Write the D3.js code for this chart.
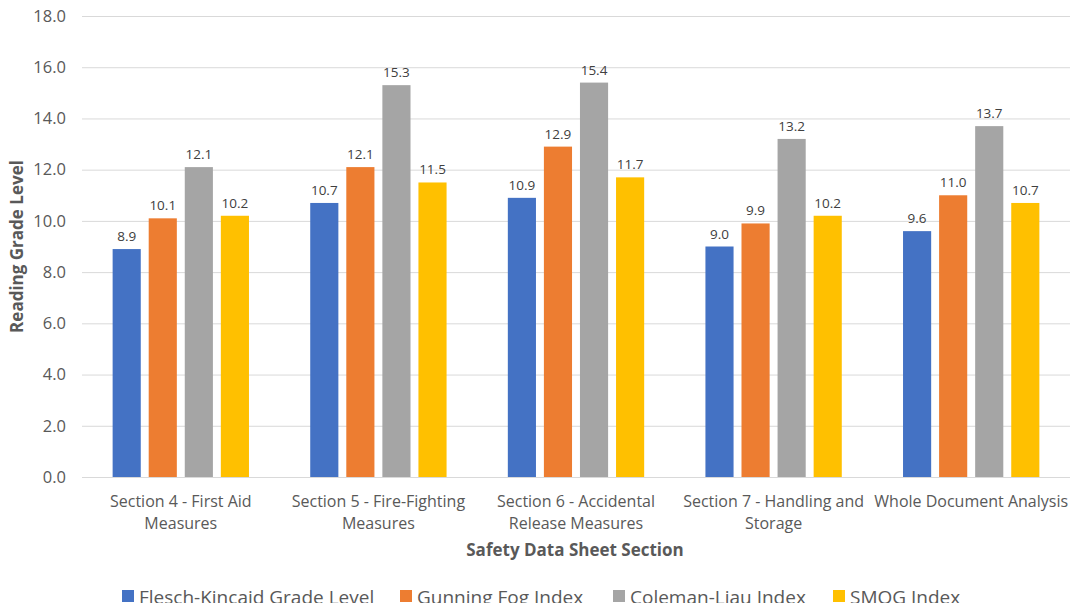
<!DOCTYPE html>
<html>
<head>
<meta charset="utf-8">
<script src="https://cdn.jsdelivr.net/npm/d3@7"></script>
<style>
  body { margin: 0; background: #fff; }
  svg text { font-family: "Open Sans", "Noto Sans", sans-serif; }
</style>
</head>
<body>
<svg id="chart" width="1070" height="603"></svg>
<script>
// categories (two-line labels)
var categories = [
  ['Section 4 - First Aid', 'Measures'],
  ['Section 5 - Fire-Fighting', 'Measures'],
  ['Section 6 - Accidental', 'Release Measures'],
  ['Section 7 - Handling and', 'Storage'],
  ['Whole Document Analysis']
];
var seriesNames = ['Flesch-Kincaid Grade Level', 'Gunning Fog Index', 'Coleman-Liau Index', 'SMOG Index'];
var seriesColors = ['#4472C4', '#ED7D31', '#A5A5A5', '#FFC000'];
var fleschKincaid = [8.9, 10.7, 10.9, 9.0, 9.6];
var gunningFog = [10.1, 12.1, 12.9, 9.9, 11.0];
var colemanLiau = [12.1, 15.3, 15.4, 13.2, 13.7];
var smog = [10.2, 11.5, 11.7, 10.2, 10.7];
var yTicks = [0, 2, 4, 6, 8, 10, 12, 14, 16, 18];

var series = [fleschKincaid, gunningFog, colemanLiau, smog];

var svg = d3.select('#chart');
// plot area ("top" is reserved on window, so prefixed names)
var plotLeft = 82, plotRight = 1070, plotTop = 16, plotBottom = 477;

var x = d3.scaleBand().domain(d3.range(categories.length))
    .range([plotLeft, plotRight]).paddingInner(0.31).paddingOuter(0.155);
var xs = d3.scaleBand().domain(d3.range(series.length))
    .range([0, x.bandwidth()]).paddingInner(0.22);
var y = d3.scaleLinear().domain([0, 18]).range([plotBottom, plotTop]);

// gridlines
svg.append('g').selectAll('line').data(yTicks).enter().append('line')
    .attr('x1', plotLeft).attr('x2', plotRight)
    .attr('y1', function(d) { return y(d) + 0.5; })
    .attr('y2', function(d) { return y(d) + 0.5; })
    .attr('stroke', '#d9d9d9').attr('stroke-width', 1);

// y tick labels
svg.append('g').selectAll('text').data(yTicks).enter().append('text')
    .attr('x', 66).attr('y', function(d) { return y(d); })
    .attr('dy', '0.35em').attr('text-anchor', 'end')
    .attr('font-size', 16.5).attr('fill', '#595959')
    .text(function(d) { return d.toFixed(1); });

// bars + labels
series.forEach(function(vals, si) {
  var g = svg.append('g');
  g.selectAll('rect').data(vals).enter().append('rect')
      .attr('x', function(d, i) { return x(i) + xs(si); })
      .attr('y', function(d) { return y(d); })
      .attr('width', xs.bandwidth())
      .attr('height', function(d) { return y(0) - y(d); })
      .attr('fill', seriesColors[si]);
  g.selectAll('text').data(vals).enter().append('text')
      .attr('x', function(d, i) { return x(i) + xs(si) + xs.bandwidth() / 2; })
      .attr('y', function(d) { return y(d) - 8; })
      .attr('text-anchor', 'middle')
      .attr('font-size', 13.5).attr('fill', '#404040')
      .text(function(d) { return d.toFixed(1); });
});

// category labels
var cat = svg.append('g').selectAll('text').data(categories).enter().append('text')
    .attr('text-anchor', 'middle')
    .attr('font-size', 16).attr('fill', '#595959');
cat.each(function(lines, i) {
  var t = d3.select(this);
  lines.forEach(function(l, li) {
    t.append('tspan')
        .attr('x', x(i) + x.bandwidth() / 2)
        .attr('y', 507 + li * 22)
        .text(l);
  });
});

// axis titles
svg.append('text')
    .attr('x', 575).attr('y', 556).attr('text-anchor', 'middle')
    .attr('font-size', 17).attr('font-weight', 'bold').attr('fill', '#595959')
    .text('Safety Data Sheet Section');
svg.append('text')
    .attr('transform', 'translate(23,' + ((plotTop + plotBottom) / 2) + ') rotate(-90)')
    .attr('text-anchor', 'middle')
    .attr('font-size', 17).attr('font-weight', 'bold').attr('fill', '#595959')
    .text('Reading Grade Level');

// legend
var legendX = [122, 400, 613, 833];
var leg = svg.append('g').selectAll('g').data(seriesNames).enter().append('g')
    .attr('transform', function(d, i) { return 'translate(' + legendX[i] + ',0)'; });
leg.append('rect').attr('x', 0).attr('y', 590).attr('width', 12).attr('height', 12)
    .attr('fill', function(d, i) { return seriesColors[i]; });
leg.append('text').attr('x', 17).attr('y', 604)
    .attr('font-size', 19).attr('fill', '#595959')
    .text(function(d) { return d; });
</script>
</body>
</html>
